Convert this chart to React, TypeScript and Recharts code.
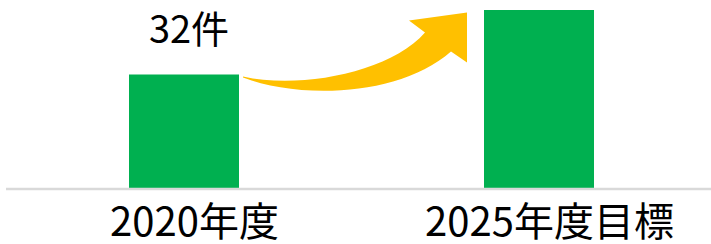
import React from "react";
import { BarChart, Bar, XAxis, YAxis, LabelList } from "recharts";

const categories = ["2020年度", "2025年度目標"];
const values = [32, 50];
const valueLabels = ["32件", ""];

const data = categories.map((c, i) => ({ name: c, value: values[i], label: valueLabels[i] }));

const FONT = "'Noto Sans CJK JP', 'Noto Sans', sans-serif";

const Tick = (props: any) => {
  const { x, y, payload } = props;
  return (
    <text x={x + 11} y={y + 39} textAnchor="middle" fontFamily={FONT} fontSize={40} fill="#000">
      {payload.value}
    </text>
  );
};

const ValueLabel = (props: any) => {
  const { x, y, width, index } = props;
  if (index !== 0) return null;
  const cx = x + width / 2;
  const ox = x + width;
  const oy = y;
  const p = (dx: number, dy: number) => `${ox + dx} ${oy + dy}`;
  const d =
    `M ${p(4, 3)} C ${p(61, 25)}, ${p(161, 22)}, ${p(212, -23)} ` +
    `L ${p(228, -12)} L ${p(228, -62)} L ${p(170, -54)} L ${p(186, -42)} ` +
    `C ${p(151, -2)}, ${p(61, 15)}, ${p(4, 2)} Z`;
  return (
    <g>
      <text x={cx + 5} y={y - 31} textAnchor="middle" fontFamily={FONT} fontSize={38} fill="#000">
        {valueLabels[index]}
      </text>
      <path d={d} fill="#FFC000" />
    </g>
  );
};

export default function App() {
  return (
    <div style={{ position: "absolute", left: 0, top: 0, width: 711, height: 244, overflow: "hidden", background: "#fff" }}>
      <BarChart
        width={716}
        height={244}
        data={data}
        margin={{ top: 10, right: 0, left: 6, bottom: 0 }}
      >
        <XAxis
          dataKey="name"
          axisLine={{ stroke: "#D9D9D9", strokeWidth: 2.5 }}
          tickLine={false}
          tick={<Tick />}
          interval={0}
          height={55}
        />
        <YAxis hide domain={[0, 50]} />
        <Bar dataKey="value" fill="#00B050" barSize={110} isAnimationActive={false}>
          <LabelList dataKey="label" content={<ValueLabel />} />
        </Bar>
      </BarChart>
    </div>
  );
}
